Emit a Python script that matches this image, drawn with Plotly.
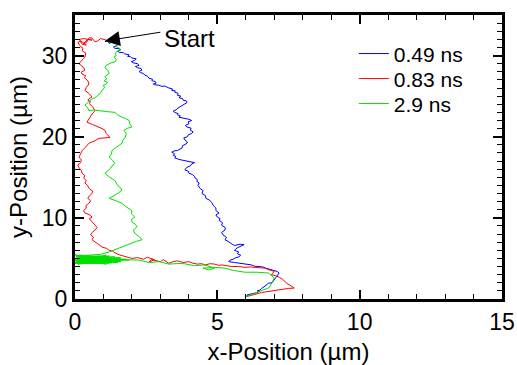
import plotly.graph_objects as go

# ---- data ----
series_names = ["0.49 ns", "0.83 ns", "2.9 ns"]
series_colors = ["#0000ff", "#ff0000", "#00e000"]

# trajectories as (x, y) positions in micrometres
blue_path = [
    (1.05, 31.7), (1.15, 31.8), (1.2, 31.5), (1.3, 31.65), (1.35, 31.6), (1.5, 31.4), (1.45, 31.2), (1.35, 31.05),
    (1.4, 30.9), (1.55, 30.85), (1.6, 30.7), (1.5, 30.55), (1.55, 30.4), (1.7, 30.35), (1.75, 30.2), (1.9, 30.1),
    (1.85, 29.9), (1.95, 29.85), (2.0, 29.7), (2.15, 29.6), (2.1, 29.4), (1.98, 29.25), (2.05, 29.1), (2.2, 29.0),
    (2.25, 28.8), (2.12, 28.65), (2.2, 28.5), (2.32, 28.4), (2.35, 28.2), (2.25, 28.05), (2.3, 27.9), (2.4, 27.8),
    (2.45, 27.6), (2.55, 27.45), (2.6, 27.2), (2.72, 27.1), (2.7, 26.9), (2.82, 26.8), (2.85, 26.6), (2.75, 26.5),
    (2.8, 26.4), (2.95, 26.35), (3.05, 26.2), (3.15, 26.25), (3.3, 26.0), (3.42, 25.9), (3.4, 25.7), (3.52, 25.65),
    (3.5, 25.5), (3.62, 25.35), (3.6, 25.1), (3.72, 25.0), (3.65, 24.8), (3.78, 24.7), (3.8, 24.5), (3.92, 24.4),
    (3.93, 24.2), (3.85, 24.05), (3.8, 23.9), (3.7, 23.75), (3.65, 23.6), (3.58, 23.45), (3.55, 23.3), (3.45, 23.15),
    (3.5, 23.0), (3.62, 22.85), (3.6, 22.7), (3.7, 22.55), (3.65, 22.4), (3.8, 22.3), (3.9, 22.2), (4.0, 22.15),
    (4.1, 22.0), (3.98, 21.85), (4.0, 21.6), (3.88, 21.4), (3.93, 21.2), (4.08, 21.05), (4.05, 20.8), (4.15, 20.6),
    (4.1, 20.4), (3.98, 20.25), (3.95, 20.0), (3.82, 19.85), (3.86, 19.6), (3.95, 19.35), (3.9, 19.1), (3.78, 18.9),
    (3.76, 18.6), (3.65, 18.45), (3.6, 18.3), (3.48, 18.25), (3.4, 18.1), (3.5, 17.9), (3.45, 17.7), (3.55, 17.55),
    (3.5, 17.4), (3.65, 17.2), (3.8, 17.1), (4.0, 17.0), (4.2, 16.8), (4.1, 16.65), (4.05, 16.4), (3.92, 16.2),
    (3.86, 15.9), (3.98, 15.75), (4.0, 15.5), (4.12, 15.35), (4.2, 15.1), (4.22, 14.9), (4.3, 14.7), (4.28, 14.5),
    (4.36, 14.3), (4.32, 14.0), (4.4, 13.6), (4.5, 13.35), (4.46, 13.0), (4.58, 12.75), (4.6, 12.4), (4.72, 12.2),
    (4.8, 11.9), (4.85, 11.55), (4.95, 11.2), (4.95, 10.9), (5.06, 10.6), (4.95, 10.35), (5.0, 10.1), (5.1, 9.9),
    (5.06, 9.7), (5.18, 9.4), (5.15, 9.1), (5.28, 8.8), (5.27, 8.5), (5.15, 8.2), (5.2, 7.9), (5.32, 7.6),
    (5.27, 7.3), (5.38, 7.1), (5.45, 6.9), (5.52, 6.75), (5.6, 6.6), (5.8, 6.75), (5.94, 6.7), (5.8, 6.5),
    (5.7, 6.3), (5.65, 6.15), (5.6, 6.0), (5.75, 5.8), (5.7, 5.6), (5.82, 5.4), (5.76, 5.2), (5.62, 5.05),
    (5.55, 4.9), (5.45, 4.8), (5.4, 4.6), (5.6, 4.5), (5.8, 4.4), (6.0, 4.35), (6.2, 4.2), (6.3, 4.05),
    (6.45, 4.0), (6.6, 3.95), (6.7, 3.8), (6.85, 3.65), (6.95, 3.5), (7.1, 3.4), (7.17, 3.2), (7.1, 2.9),
    (7.05, 2.6), (6.98, 2.3), (6.92, 2.0), (6.8, 1.95), (6.75, 1.8), (6.7, 1.6), (6.64, 1.5), (6.55, 1.3),
    (6.5, 1.1), (6.4, 1.0), (6.46, 0.9), (6.35, 0.75), (6.25, 0.7), (6.15, 0.6), (6.04, 0.5), (6.05, 0.35),
    (5.97, 0.25),
]

red_path = [
    (1.1, 31.9), (1.0, 32.05), (0.9, 32.1), (0.8, 31.8), (0.7, 31.7), (0.6, 32.15), (0.5, 32.2), (0.4, 31.6),
    (0.3, 31.5), (0.45, 32.0), (0.6, 31.9), (0.3, 32.1), (0.15, 32.0), (0.25, 31.4), (0.4, 31.3), (0.2, 31.8),
    (0.1, 31.6), (0.2, 31.1), (0.28, 30.9), (0.25, 30.6), (0.38, 30.3), (0.35, 29.8), (0.25, 29.45), (0.14, 29.0),
    (0.28, 28.6), (0.35, 28.2), (0.22, 27.95), (0.25, 27.7), (0.38, 27.5), (0.32, 27.3), (0.45, 26.9), (0.49, 26.5),
    (0.4, 26.1), (0.35, 25.7), (0.5, 25.3), (0.6, 24.9), (0.5, 24.7), (0.45, 24.5), (0.55, 24.3), (0.49, 24.1),
    (0.62, 23.7), (0.7, 23.2), (0.6, 22.8), (0.53, 22.4), (0.45, 22.1), (0.42, 21.8), (0.62, 21.5), (0.84, 21.2),
    (0.95, 21.0), (1.05, 20.8), (1.1, 20.4), (1.23, 19.9), (1.05, 19.85), (0.84, 19.8), (0.7, 19.5), (0.49, 19.2),
    (0.38, 18.75), (0.25, 18.3), (0.2, 17.9), (0.14, 17.5), (0.22, 17.15), (0.2, 16.8), (0.1, 16.5), (0.14, 16.2),
    (0.22, 15.85), (0.25, 15.5), (0.35, 15.2), (0.3, 14.9), (0.4, 14.6), (0.35, 14.3), (0.45, 13.95), (0.5, 13.6),
    (0.62, 13.3), (0.6, 13.0), (0.5, 12.7), (0.45, 12.4), (0.55, 12.1), (0.49, 11.8), (0.38, 11.5), (0.4, 11.2),
    (0.3, 10.9), (0.35, 10.6), (0.52, 10.35), (0.6, 10.1), (0.5, 9.9), (0.55, 9.7), (0.65, 9.4), (0.7, 9.1),
    (0.78, 8.8), (0.7, 8.5), (0.6, 8.2), (0.55, 7.9), (0.65, 7.6), (0.6, 7.3), (0.72, 7.05), (0.8, 6.8),
    (0.88, 6.6), (0.95, 6.4), (1.1, 6.25), (1.2, 6.0), (1.32, 5.9), (1.4, 5.7), (1.55, 5.45), (1.7, 5.3),
    (1.85, 5.2), (2.0, 5.0), (2.2, 5.1), (2.4, 4.9), (2.55, 5.15), (2.8, 4.8), (2.7, 4.95), (2.6, 4.5),
    (2.75, 4.8), (3.0, 4.6), (3.1, 4.85), (3.3, 4.4), (3.45, 4.6), (3.6, 4.7), (3.8, 4.5), (4.0, 4.6),
    (4.15, 4.4), (4.3, 4.3), (4.45, 4.35), (4.57, 4.2), (4.75, 4.35), (4.9, 4.3), (5.05, 4.15), (5.16, 4.2),
    (5.35, 4.05), (5.5, 4.0), (5.75, 4.0), (5.97, 3.9), (6.15, 3.95), (6.3, 3.9), (6.5, 3.85), (6.67, 3.8),
    (6.85, 3.55), (7.0, 3.4), (6.95, 3.2), (6.9, 3.0), (7.05, 2.85), (7.17, 2.7), (7.3, 2.4), (7.38, 2.1),
    (7.45, 1.9), (7.55, 1.7), (7.65, 1.5), (7.7, 1.35), (7.5, 1.3), (7.3, 1.2), (7.15, 1.15), (7.0, 1.1),
    (6.85, 1.0), (6.7, 0.9), (6.55, 0.8), (6.46, 0.7), (6.3, 0.55), (6.2, 0.45), (6.05, 0.35), (5.97, 0.25),
]

green_path = [
    (1.1, 31.8), (1.2, 31.65), (1.3, 31.7), (1.45, 31.6), (1.55, 31.5), (1.48, 31.3), (1.45, 31.1), (1.58, 30.85),
    (1.55, 30.6), (1.45, 30.45), (1.4, 30.2), (1.45, 30.0), (1.37, 29.8), (1.45, 29.5), (1.4, 29.2), (1.3, 29.15),
    (1.2, 29.0), (1.1, 28.8), (1.05, 28.5), (1.15, 28.2), (1.2, 27.8), (1.1, 27.6), (1.05, 27.4), (1.12, 27.15),
    (1.02, 26.9), (1.14, 26.7), (1.1, 26.5), (0.98, 26.3), (1.05, 26.1), (0.95, 25.7), (0.88, 25.3), (0.8, 25.1),
    (0.7, 24.8), (0.62, 24.7), (0.53, 24.5), (0.45, 24.2), (0.35, 23.9), (0.45, 23.55), (0.49, 23.2), (0.65, 23.3),
    (0.84, 23.2), (1.1, 23.1), (1.4, 23.0), (1.5, 22.7), (1.65, 22.4), (1.78, 22.25), (1.9, 22.0), (1.92, 21.6),
    (2.0, 21.2), (1.85, 21.05), (1.72, 20.8), (1.8, 20.35), (1.76, 19.9), (1.68, 19.55), (1.65, 19.2), (1.5, 18.8),
    (1.3, 18.3), (1.28, 17.9), (1.2, 17.5), (1.32, 17.1), (1.4, 16.7), (1.3, 16.4), (1.25, 16.1), (1.15, 15.8),
    (1.05, 15.5), (1.22, 15.0), (1.4, 14.6), (1.45, 14.3), (1.5, 14.0), (1.6, 13.7), (1.65, 13.4), (1.45, 12.9),
    (1.2, 12.4), (1.45, 12.1), (1.65, 11.8), (1.8, 11.35), (2.0, 10.9), (1.98, 10.5), (2.1, 10.1), (1.98, 9.8),
    (2.0, 9.5), (2.12, 9.2), (2.18, 8.9), (2.05, 8.5), (2.1, 8.1), (2.25, 7.7), (2.35, 7.3), (2.15, 7.1),
    (2.0, 6.9), (1.85, 6.65), (1.65, 6.4), (1.45, 6.1), (1.2, 5.8),
    # dense back-and-forth band near y = 5
    (0.9, 5.5), (0.05, 5.3), (1.5, 4.9), (0.1, 4.5), (1.2, 5.3), (0.02, 4.9), (1.6, 4.6), (0.15, 5.4),
    (1.0, 4.4), (0.05, 4.7), (1.4, 5.2), (0.1, 5.1), (1.7, 4.8), (0.0, 4.4), (1.1, 5.4), (0.2, 4.6),
    (1.3, 4.5), (0.05, 5.2), (1.8, 4.9), (0.1, 4.3), (0.9, 5.3), (0.0, 5.0), (1.5, 4.6), (0.15, 5.3),
    (1.2, 4.4), (0.05, 4.8), (1.6, 5.1), (0.1, 4.5), (1.0, 5.2), (0.02, 4.6), (1.4, 4.7), (0.2, 5.4),
    (1.9, 4.8), (0.1, 4.9), (1.3, 5.0), (0.0, 4.5), (0.8, 4.4), (0.05, 5.35), (1.2, 5.2), (0.1, 4.35),
    (1.5, 4.5), (0.0, 5.45), (1.1, 4.3), (0.15, 4.7), (1.4, 5.0), (0.05, 4.4), (1.0, 5.3), (0.1, 5.2),
    (1.6, 4.6), (0.0, 4.8), (1.3, 4.6), (0.2, 5.1), (0.9, 4.7), (0.05, 5.25), (1.7, 4.85),
    (2.0, 4.85), (2.25, 4.8), (2.6, 4.5), (2.95, 4.6), (3.3, 4.3), (3.76, 4.4), (4.2, 4.1), (4.57, 4.2),
    (4.9, 3.8), (4.7, 3.6), (4.5, 3.8), (4.9, 3.9), (5.27, 3.8), (5.6, 3.5), (5.97, 3.3), (6.4, 3.3),
    (6.8, 3.2), (7.0, 2.6), (6.92, 2.0), (6.8, 1.35), (6.6, 1.1), (6.46, 0.9), (6.2, 0.6), (5.97, 0.25),
]

start_label = "Start"
start_xy = (1.05, 31.8)

x_range = [0, 15]
y_range = [0, 35]

FONT = "Liberation Sans, Arial, Helvetica, sans-serif"

fig = go.Figure()
legend_ids = ["legend", "legend2", "legend3"]
for name, color, path, lid in zip(series_names, series_colors,
                                  [blue_path, red_path, green_path], legend_ids):
    fig.add_trace(go.Scatter(x=[p[0] for p in path], y=[p[1] for p in path],
                             mode="lines", name=name, legend=lid,
                             line=dict(color=color, width=1)))

axis_common = dict(
    showline=True, linecolor="black", linewidth=3, mirror="allticks",
    ticks="inside", ticklen=9, tickwidth=1.5, tickcolor="black",
    showgrid=False, zeroline=False,
    tickfont=dict(family=FONT, size=23, color="black"),
)

fig.update_xaxes(range=x_range, dtick=5, tick0=0,
                 minor=dict(dtick=1, ticks="inside", ticklen=5, tickwidth=1.2, tickcolor="black"),
                 title=dict(text="x-Position (µm)", font=dict(family=FONT, size=24, color="black"), standoff=14),
                 **axis_common)
fig.update_yaxes(range=y_range, dtick=10, tick0=0,
                 minor=dict(dtick=1, ticks="inside", ticklen=5, tickwidth=1.2, tickcolor="black"),
                 title=dict(text="y-Position (µm)", font=dict(family=FONT, size=24, color="black"), standoff=8),
                 **axis_common)

fig.add_annotation(x=start_xy[0], y=start_xy[1], xref="x", yref="y",
                   text="", showarrow=True, ax=57, ay=-9,
                   arrowhead=2, arrowsize=3, arrowwidth=1.0, arrowcolor="black")
fig.add_annotation(x=4.02, y=32.1, xref="x", yref="y", text=start_label, showarrow=False,
                   font=dict(family=FONT, size=24, color="black"))

legend_rows_y = [0.863, 0.775, 0.687]
legend_style = dict(x=0.653, xanchor="left", yanchor="middle", bgcolor="rgba(0,0,0,0)",
                    font=dict(family=FONT, size=21, color="black"))

fig.update_layout(
    width=517, height=365,
    margin=dict(l=75, r=15, t=15, b=66, autoexpand=False),
    paper_bgcolor="white", plot_bgcolor="white",
    showlegend=True,
    legend=dict(y=legend_rows_y[0], **legend_style),
    legend2=dict(y=legend_rows_y[1], **legend_style),
    legend3=dict(y=legend_rows_y[2], **legend_style),
)

# remove the browser's default 8px page margin so the figure sits at the window origin
fig.write_html("out.html", config={"displayModeBar": False},
               post_script="document.body.style.margin='0px';")
